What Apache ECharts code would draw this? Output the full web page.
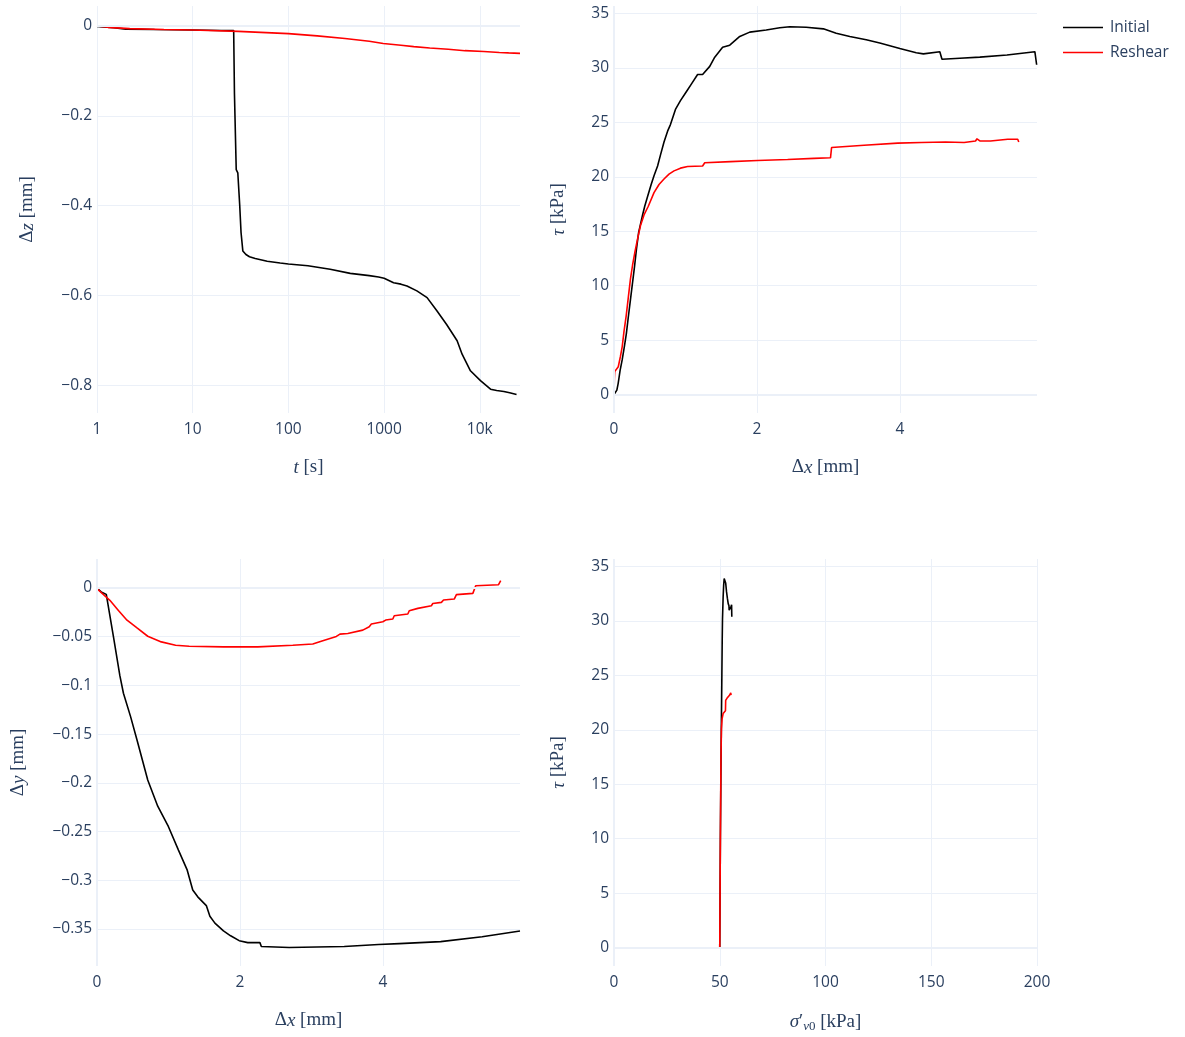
<!DOCTYPE html>
<html>
<head>
<meta charset="utf-8">
<script src="https://cdn.jsdelivr.net/npm/echarts@6/dist/echarts.min.js"></script>
<style>
  html, body { margin: 0; padding: 0; background: #ffffff; }
  #chart { width: 1185px; height: 1037px; }
</style>
</head>
<body>
<div id="chart"></div>
<script>
// ---------- Legend / series names ----------
const seriesNames = ['Initial', 'Reshear'];

// ---------- Panel 1: Δz vs t (log) ----------
const tInitial = [1, 1.5, 2, 4, 10, 20, 26.8, 27.3, 28.5, 29.6, 31, 32, 33.4, 36, 39.2, 45, 50, 60, 82, 100,
  160, 273, 443, 700, 875, 1000, 1256, 1500, 1734, 2200, 2812, 3573, 4500, 5794, 6531, 7980, 10160, 12940, 15000, 17820,
  20500, 24200];
const dzInitial = [-0.001, -0.004, -0.007, -0.008, -0.009, -0.01, -0.01, -0.15, -0.32, -0.327, -0.40, -0.46, -0.501, -0.509, -0.514, -0.518, -0.52, -0.524, -0.528, -0.530,
  -0.534, -0.542, -0.551, -0.556, -0.559, -0.562, -0.572, -0.575, -0.579, -0.59, -0.605, -0.635, -0.665, -0.701, -0.731, -0.768, -0.790, -0.809, -0.812, -0.814,
  -0.817, -0.821];
const tReshear = [1, 1.3, 2.2, 5, 10, 30, 100, 200, 390, 700, 980, 1500, 2040, 3000, 4680, 7000, 11000, 16000, 20000, 26300];
const dzReshear = [0, -0.003, -0.006, -0.008, -0.009, -0.012, -0.017, -0.022, -0.028, -0.034, -0.039, -0.043, -0.046, -0.049, -0.052, -0.055, -0.057, -0.059, -0.060, -0.061];
const timeTicks = [1, 10, 100, 1000, 10000];
const timeTickLabels = ['1', '10', '100', '1000', '10k'];

// ---------- Panel 2: τ vs Δx ----------
const dxTauInitial = [0, 0.017, 0.04, 0.058, 0.085, 0.115, 0.145, 0.173, 0.2, 0.23, 0.26, 0.288, 0.315, 0.345, 0.40, 0.43, 0.47, 0.52, 0.56, 0.61,
  0.65, 0.70, 0.75, 0.79, 0.86, 0.93, 1.01, 1.08, 1.17, 1.24, 1.34, 1.41, 1.52, 1.62, 1.76, 1.90, 2.13, 2.32, 2.46, 2.69,
  2.93, 3.11, 3.30, 3.53, 3.72, 4.0, 4.23, 4.33, 4.56, 4.585, 4.59, 4.84, 5.12, 5.50, 5.89, 5.905, 5.915];
const tauInitial = [0, 0, 0.4, 1.0, 2.2, 3.2, 4.4, 5.6, 7.1, 8.7, 10.3, 11.8, 13.4, 14.9, 16.5, 17.3, 18.2, 19.3, 20.1, 21.0,
  22.0, 23.2, 24.2, 24.8, 26.2, 27.0, 27.8, 28.5, 29.4, 29.4, 30.15, 31.0, 31.9, 32.1, 32.9, 33.3, 33.5, 33.7, 33.8, 33.75,
  33.6, 33.2, 32.9, 32.6, 32.3, 31.8, 31.4, 31.3, 31.5, 31.55, 30.8, 30.9, 31.0, 31.2, 31.5, 31.45, 30.3];
const dxTauReshear = [0, 0.005, 0.01, 0.06, 0.09, 0.115, 0.14, 0.17, 0.2, 0.23, 0.26, 0.29, 0.33, 0.37, 0.42, 0.48, 0.56, 0.63, 0.70, 0.77,
  0.84, 0.93, 1.03, 1.24, 1.27, 1.63, 2.01, 2.43, 2.80, 3.03, 3.045, 3.50, 3.97, 4.30, 4.64, 4.66, 4.90, 5.06, 5.08, 5.12,
  5.27, 5.51, 5.65, 5.665];
const tauReshear = [0, 1.5, 2.1, 2.55, 3.5, 4.4, 5.8, 7.2, 8.9, 10.6, 11.9, 13.0, 14.3, 15.5, 16.5, 17.3, 18.55, 19.3, 19.8, 20.25,
  20.55, 20.8, 20.95, 21.0, 21.3, 21.4, 21.5, 21.6, 21.7, 21.75, 22.7, 22.9, 23.1, 23.15, 23.2, 23.05, 23.15, 23.3, 23.5, 23.3,
  23.3, 23.45, 23.45, 23.2];

// ---------- Panel 3: Δy vs Δx ----------
const dxDyInitial = [0, 0.058, 0.13, 0.15, 0.23, 0.32, 0.37, 0.47, 0.56, 0.71, 0.85, 1.0, 1.14, 1.26, 1.34, 1.41, 1.53, 1.58, 1.65, 1.77,
  1.87, 1.99, 2.11, 2.28, 2.30, 2.69, 3.46, 3.94, 4.23, 4.81, 5.39, 5.92];
const dyInitial = [0, -0.004, -0.0065, -0.008, -0.05, -0.09, -0.108, -0.132, -0.156, -0.197, -0.224, -0.245, -0.269, -0.289, -0.310, -0.317, -0.326, -0.337, -0.344, -0.352,
  -0.357, -0.362, -0.364, -0.364, -0.368, -0.369, -0.368, -0.366, -0.365, -0.363, -0.358, -0.352];
const dxDyReshear = [0, 0.08, 0.18, 0.30, 0.42, 0.56, 0.71, 0.90, 1.10, 1.29, 1.77, 2.25, 2.74, 3.02, 3.16, 3.35, 3.40, 3.51, 3.53, 3.72,
  3.81, 3.84, 4.0, 4.04, 4.14, 4.16, 4.35, 4.37, 4.49, 4.68, 4.70, 4.82, 4.85, 5.00, 5.03, 5.26, 5.30, 5.62, 5.65];
const dyReshear = [-0.0007, -0.006, -0.0126, -0.023, -0.033, -0.041, -0.0495, -0.0553, -0.0587, -0.0598, -0.0604, -0.0604, -0.0587, -0.0575, -0.0541, -0.0497, -0.0473, -0.0466, -0.0452, -0.0432,
  -0.0397, -0.037, -0.0346, -0.0329, -0.0318, -0.0284, -0.0267, -0.0233, -0.0209, -0.0182, -0.0158, -0.0147, -0.0123, -0.0113, -0.0068, -0.0055, 0.0024, 0.0034, 0.0075];

// ---------- Panel 4: τ vs σ'v0 ----------
const sigmaInitial = [50.0, 50.3, 50.6, 50.8, 51.0, 51.15, 51.3, 51.6, 51.85, 52.1, 52.4, 52.8, 53.2, 53.6, 54.0, 54.35, 54.45, 54.9, 55.3, 55.6, 55.7];
const tauSigmaInitial = [0, 10, 17.3, 21.0, 25.0, 28.0, 30.2, 32.2, 33.3, 33.9, 33.8, 33.5, 32.7, 32.1, 31.6, 31.4, 31.0, 31.1, 31.3, 31.5, 30.4];
const sigmaReshear = [50.0, 50.3, 50.55, 50.8, 51.1, 51.6, 52.4, 52.7, 52.8, 53.4, 54.1, 54.7, 55.2, 55.35];
const tauSigmaReshear = [0, 10, 17.0, 20.1, 21.0, 21.5, 21.6, 21.75, 22.7, 22.9, 23.0, 23.2, 23.4, 23.2];

// ---------- helpers ----------
const zip = (a, b) => a.map((v, i) => [v, b[i]]);
const TXT = '#2a3f5f';
const GRID = '#ebf0f8';
const minusFmt = v => String(Number(v.toFixed(6))).replace('-', '\u2212');

const richName = {
  r: { fontFamily: 'Liberation Serif', fontSize: 19, color: TXT },
  i: { fontFamily: 'Liberation Serif', fontSize: 19, fontStyle: 'italic', color: TXT },
  si: { fontFamily: 'Liberation Serif', fontSize: 13, fontStyle: 'italic', color: TXT, verticalAlign: 'bottom', padding: [9, 0, 0, 0] },
  s0: { fontFamily: 'Liberation Serif', fontSize: 13, color: TXT, verticalAlign: 'bottom', padding: [9, 0, 0, 0] }
};

function valueAxis(gridIndex, o) {
  return {
    type: o.type || 'value',
    gridIndex: gridIndex,
    min: o.min, max: o.max,
    splitNumber: o.splitNumber,
    logBase: o.type === 'log' ? 10 : undefined,
    name: o.name,
    nameLocation: 'middle',
    nameGap: o.nameGap,
    nameTextStyle: { fontFamily: 'Liberation Serif', fontSize: 19, color: TXT, rich: richName },
    axisLine: { show: false },
    axisTick: { show: false },
    splitLine: {
      show: true,
      showMinLine: o.showMin,
      showMaxLine: o.showMax,
      lineStyle: { color: GRID, width: 1 }
    },
    axisLabel: {
      color: TXT,
      fontFamily: 'Open Sans',
      fontSize: 15.5,
      margin: o.margin,
      showMinLabel: o.showMin,
      showMaxLabel: o.showMax,
      formatter: o.formatter || minusFmt
    }
  };
}

const timeFmt = v => {
  const idx = timeTicks.indexOf(Math.round(v));
  return idx >= 0 ? timeTickLabels[idx] : '';
};

const chart = echarts.init(document.getElementById('chart'), null, { renderer: 'canvas' });

const option = {
  backgroundColor: '#ffffff',
  animation: false,
  legend: {
    orient: 'vertical',
    left: 1058,
    top: 14,
    icon: 'rect',
    itemWidth: 40,
    itemHeight: 1.6,
    itemGap: 8,
    textStyle: { fontFamily: 'Open Sans', fontSize: 15.5, color: TXT, padding: [0, 0, 0, 2], lineHeight: 17 },
    data: seriesNames
  },
  grid: [
    { left: 97, top: 6, width: 423, height: 407 },
    { left: 614, top: 6, width: 423, height: 407 },
    { left: 97, top: 559, width: 423, height: 407 },
    { left: 614, top: 559, width: 423, height: 407 }
  ],
  xAxis: [
    valueAxis(0, { type: 'log', min: 1, max: 26300, showMin: true, showMax: false, margin: 9, nameGap: 45,
      name: '{i|t}{r| [s]}', formatter: timeFmt }),
    valueAxis(1, { min: 0, max: 5.92, splitNumber: 3, showMin: true, showMax: false, margin: 9, nameGap: 45,
      name: '{r|Δ}{i|x}{r| [mm]}' }),
    valueAxis(2, { min: 0, max: 5.92, splitNumber: 3, showMin: true, showMax: false, margin: 9, nameGap: 45,
      name: '{r|Δ}{i|x}{r| [mm]}' }),
    valueAxis(3, { min: 0, max: 200, splitNumber: 4, showMin: true, showMax: true, margin: 9, nameGap: 45,
      name: '{i|σ}{r|′}{si|v}{s0|0}{r| [kPa]}' })
  ],
  yAxis: [
    valueAxis(0, { min: -0.862, max: 0.0445, splitNumber: 5, showMin: false, showMax: false, margin: 5, nameGap: 60,
      name: '{r|Δ}{i|z}{r| [mm]}' }),
    valueAxis(1, { min: -1.7, max: 35.7, splitNumber: 7, showMin: false, showMax: false, margin: 5, nameGap: 46,
      name: '{i|τ}{r| [kPa]}' }),
    valueAxis(2, { min: -0.388, max: 0.0298, splitNumber: 8, showMin: false, showMax: false, margin: 5, nameGap: 69,
      name: '{r|Δ}{i|y}{r| [mm]}' }),
    valueAxis(3, { min: -1.7, max: 35.7, splitNumber: 7, showMin: false, showMax: false, margin: 5, nameGap: 46,
      name: '{i|τ}{r| [kPa]}' })
  ],
  series: []
};

// zero lines (plotly-style, 2px, same tint as the grid), drawn beneath the data
const zeroLines = [
  [{ yAxis: 0 }],
  [{ xAxis: 0 }, { yAxis: 0 }],
  [{ xAxis: 0 }, { yAxis: 0 }],
  [{ xAxis: 0 }, { yAxis: 0 }]
];
zeroLines.forEach((lines, gi) => {
  option.series.push({
    type: 'line',
    name: 'zeroline' + gi,
    xAxisIndex: gi,
    yAxisIndex: gi,
    data: [],
    z: 1,
    silent: true,
    markLine: {
      silent: true,
      symbol: ['none', 'none'],
      label: { show: false },
      lineStyle: { color: GRID, width: 2, type: 'solid' },
      emphasis: { disabled: true },
      animation: false,
      data: lines
    }
  });
});

const panels = [
  [zip(tInitial, dzInitial), zip(tReshear, dzReshear)],
  [zip(dxTauInitial, tauInitial), zip(dxTauReshear, tauReshear)],
  [zip(dxDyInitial, dyInitial), zip(dxDyReshear, dyReshear)],
  [zip(sigmaInitial, tauSigmaInitial), zip(sigmaReshear, tauSigmaReshear)]
];
const colors = ['#000000', '#ff0000'];

panels.forEach((pair, gi) => {
  pair.forEach((data, si) => {
    option.series.push({
      type: 'line',
      name: seriesNames[si],
      xAxisIndex: gi,
      yAxisIndex: gi,
      data: data,
      z: 3,
      symbol: 'none',
      showSymbol: false,
      smooth: false,
      clip: true,
      color: colors[si],
      lineStyle: { color: colors[si], width: 1.6 },
      emphasis: { disabled: true }
    });
  });
});

chart.setOption(option);
</script>
</body>
</html>
